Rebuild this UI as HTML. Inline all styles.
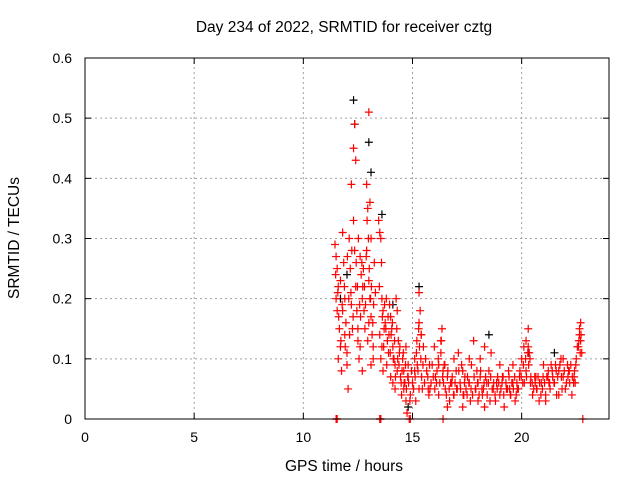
<!DOCTYPE html>
<html><head><meta charset="utf-8"><style>
body{margin:0;background:#fff}
svg text{font-family:"Liberation Sans",sans-serif;font-size:14px;fill:#000}
svg text.ttl{font-size:15.5px}
</style></head><body>
<svg id="chart" width="640" height="480" viewBox="0 0 640 480" xmlns="http://www.w3.org/2000/svg">
<rect width="640" height="480" fill="#fff"/>
<text class="ttl" x="344" y="32" text-anchor="middle">Day 234 of 2022, SRMTID for receiver cztg</text>
<text class="ttl" x="344" y="471" text-anchor="middle">GPS time / hours</text>
<text class="ttl" transform="translate(19,238) rotate(-90)" text-anchor="middle">SRMTID / TECUs</text>
<g id="grid"></g><g id="marks"></g><g id="axes"></g>
</svg>
<script>
const xTicks=[0,5,10,15,20];
const yTicks=[0,0.1,0.2,0.3,0.4,0.5,0.6];
const yTickLabels=["0","0.1","0.2","0.3","0.4","0.5","0.6"];
const redHours=[11.45,11.5,11.55,11.6,11.5,11.55,11.65,11.7,11.6,11.75,
11.8,11.85,11.9,11.95,12.0,11.7,11.8,11.9,12.0,12.05,
12.1,12.15,12.2,12.25,12.3,12.35,12.4,12.2,12.3,12.35,
12.4,12.45,12.5,12.55,12.6,12.65,12.7,12.5,12.6,12.7,
12.75,12.8,12.85,12.9,12.95,13.0,13.05,13.1,12.9,13.0,
13.05,13.1,13.15,13.2,13.25,13.3,13.2,13.1,13.0,12.95,
13.45,13.5,13.55,13.6,13.65,13.7,13.5,13.6,13.55,13.65,
13.75,13.8,13.85,13.9,13.95,14.0,14.05,14.1,14.15,14.2,
14.25,14.3,14.0,14.1,14.2,14.3,14.35,14.4,14.45,14.5,
14.55,14.6,14.65,14.7,14.75,14.8,14.6,14.7,14.8,14.9,
15.0,15.1,15.2,15.3,15.35,15.4,15.5,15.25,15.3,15.15,
15.6,15.7,15.8,15.9,16.0,16.1,16.2,16.3,16.35,16.4,
16.5,16.6,16.7,16.8,16.9,17.0,17.1,17.2,17.3,17.4,
17.5,17.6,17.7,17.8,17.9,18.0,18.1,18.2,18.3,18.4,
18.5,18.6,18.7,18.8,18.9,19.0,19.1,19.2,19.3,19.4,
19.5,19.6,19.7,19.8,19.9,20.0,20.1,20.2,20.3,20.4,
20.5,20.6,20.7,20.8,20.9,21.0,21.1,21.2,21.3,21.4,
21.5,21.6,21.7,21.8,21.9,22.0,22.1,22.2,22.3,22.4,
22.5,22.6,22.65,22.7,22.75,22.7,22.65,16.2,17.6,18.3,
15.1,15.45,15.75,16.05,16.45,16.75,17.05,17.35,17.65,17.95,
18.25,18.55,18.85,19.15,19.45,19.75,20.05,20.35,20.65,20.95,
21.25,21.55,21.85,22.15,22.45,16.6,18.0,19.6,21.1,21.7,
15.3,15.4,16.3,16.9,17.3,18.1,19.0,20.2,20.3,21.9,
11.5,11.52,11.55,13.5,13.52,13.55,14.85,14.9,16.4,22.8,
11.48,11.58,11.62,11.72,11.78,11.88,11.92,12.02,12.08,12.12,
12.18,12.22,12.28,12.42,12.48,12.52,12.58,12.62,12.68,12.72,
12.78,12.82,12.88,12.92,12.98,13.02,13.08,13.12,13.18,13.22,
13.48,13.58,13.62,13.68,13.72,13.78,13.82,13.88,13.92,13.98,
14.02,14.08,14.12,14.18,14.22,14.28,14.32,14.38,14.42,14.48,
14.52,14.58,14.62,14.68,14.72,14.78,14.82,14.88,14.95,15.05,
15.12,15.18,15.22,15.28,15.32,15.38,15.42,15.48,15.55,15.65,
15.72,15.78,15.85,15.95,16.02,16.12,16.18,16.25,16.32,16.38,
16.42,16.48,16.55,16.62,16.68,16.75,16.82,16.88,16.95,17.02,
17.12,17.18,17.25,17.32,17.38,17.45,17.52,17.58,17.68,17.75,
17.82,17.88,17.98,18.05,18.12,18.18,18.28,18.35,18.42,18.48,
18.58,18.65,18.72,18.78,18.88,18.95,19.05,19.12,19.18,19.28,
19.35,19.42,19.48,19.55,19.62,19.68,19.78,19.85,19.92,19.98,
20.08,20.12,20.18,20.22,20.28,20.32,20.38,20.42,20.48,20.55,
20.62,20.68,20.75,20.82,20.88,20.98,21.05,21.15,21.22,21.28,
21.35,21.42,21.48,21.58,21.65,21.75,21.82,21.95,22.05,22.12,
22.18,22.25,22.32,22.38,22.42,22.48,22.55,22.62,22.68,22.72];
const redValues=[0.29,0.27,0.25,0.22,0.2,0.18,0.15,0.12,0.1,0.08,
0.31,0.26,0.2,0.16,0.11,0.23,0.18,0.14,0.09,0.05,
0.3,0.25,0.19,0.15,0.45,0.49,0.43,0.39,0.33,0.28,
0.22,0.18,0.13,0.1,0.27,0.24,0.2,0.15,0.12,0.08,
0.25,0.22,0.19,0.39,0.35,0.51,0.36,0.3,0.28,0.23,
0.2,0.17,0.14,0.12,0.26,0.21,0.1,0.09,0.16,0.13,
0.33,0.31,0.3,0.2,0.18,0.15,0.14,0.12,0.1,0.08,
0.16,0.2,0.13,0.11,0.19,0.17,0.15,0.12,0.1,0.09,
0.2,0.18,0.07,0.06,0.05,0.08,0.13,0.11,0.07,0.04,
0.1,0.08,0.06,0.03,0.01,0.09,0.05,0.12,0.07,0.04,
0.06,0.1,0.13,0.21,0.18,0.14,0.12,0.08,0.05,0.03,
0.1,0.07,0.05,0.09,0.12,0.06,0.04,0.11,0.15,0.08,
0.05,0.07,0.03,0.06,0.04,0.08,0.11,0.05,0.02,0.07,
0.04,0.06,0.09,0.13,0.05,0.03,0.07,0.04,0.02,0.06,
0.08,0.11,0.05,0.03,0.07,0.04,0.06,0.02,0.05,0.08,
0.04,0.06,0.03,0.05,0.07,0.1,0.12,0.08,0.15,0.06,
0.04,0.07,0.05,0.03,0.06,0.09,0.04,0.07,0.05,0.08,
0.06,0.04,0.08,0.1,0.07,0.05,0.09,0.06,0.04,0.07,
0.1,0.12,0.14,0.16,0.11,0.13,0.15,0.09,0.1,0.12,
0.08,0.05,0.04,0.07,0.09,0.06,0.05,0.04,0.03,0.08,
0.05,0.03,0.06,0.07,0.05,0.04,0.06,0.11,0.07,0.05,
0.06,0.09,0.05,0.08,0.06,0.02,0.06,0.09,0.03,0.04,
0.16,0.14,0.13,0.1,0.08,0.1,0.09,0.13,0.12,0.1,
0,0,0,0,0,0,0,0,0,0,
0.24,0.21,0.17,0.13,0.19,0.22,0.12,0.27,0.2,0.14,
0.21,0.28,0.17,0.26,0.22,0.3,0.19,0.17,0.26,0.22,
0.18,0.15,0.27,0.33,0.3,0.25,0.2,0.22,0.16,0.19,
0.22,0.26,0.17,0.12,0.19,0.15,0.09,0.17,0.14,0.11,
0.14,0.16,0.1,0.13,0.07,0.15,0.1,0.09,0.12,0.06,
0.08,0.11,0.06,0.09,0.05,0.07,0.06,0.03,0.08,0.05,
0.07,0.11,0.09,0.15,0.12,0.1,0.07,0.09,0.06,0.08,
0.05,0.09,0.06,0.07,0.05,0.08,0.1,0.06,0.13,0.07,
0.06,0.09,0.04,0.08,0.05,0.06,0.07,0.04,0.06,0.05,
0.08,0.06,0.09,0.04,0.06,0.05,0.07,0.06,0.05,0.04,
0.07,0.05,0.06,0.04,0.08,0.05,0.06,0.07,0.04,0.06,
0.07,0.05,0.06,0.04,0.05,0.06,0.05,0.07,0.04,0.06,
0.05,0.07,0.04,0.06,0.05,0.07,0.06,0.05,0.08,0.07,
0.09,0.06,0.1,0.07,0.11,0.09,0.1,0.07,0.06,0.05,
0.06,0.05,0.07,0.06,0.04,0.07,0.06,0.07,0.08,0.06,
0.09,0.07,0.06,0.08,0.07,0.09,0.07,0.08,0.06,0.07,
0.08,0.09,0.07,0.06,0.08,0.09,0.12,0.13,0.11,0.14];
const blackHours=[12.3,12.35,13.0,13.1,13.6,11.7,12.0,14.1,15.3,20.3,21.5,18.5,14.8];
const blackValues=[0.53,0.49,0.46,0.41,0.34,0.2,0.24,0.19,0.22,0.11,0.11,0.14,0.02];
const X0=85,X1=609,Y0=419,Y1=58,XMAX=24,YMAX=0.6;
const xs=v=>X0+(X1-X0)*v/XMAX, ys=v=>Y0-(Y0-Y1)*v/YMAX;
const NS="http://www.w3.org/2000/svg";
function mk(tag,attrs,parent){const e=document.createElementNS(NS,tag);for(const k in attrs)e.setAttribute(k,attrs[k]);parent.appendChild(e);return e;}
const grid=document.getElementById('grid'),axes=document.getElementById('axes'),marks=document.getElementById('marks');
xTicks.forEach(t=>{const x=xs(t);
 if(t>0){const g=mk('line',{x1:x,x2:x,y1:Y0,y2:Y1,stroke:'#a0a0a0','stroke-dasharray':'2,3'},grid);
 
 }
 mk('line',{x1:x,x2:x,y1:Y0,y2:Y0-6,stroke:'#000'},axes);mk('line',{x1:x,x2:x,y1:Y1,y2:Y1+6,stroke:'#000'},axes);
 const l=mk('text',{x:x,y:Y0+23,'text-anchor':'middle'},axes);l.textContent=t;
 
 });
yTicks.forEach((t,i)=>{const y=ys(t);
 if(t>0&&t<YMAX){const g=mk('line',{x1:X0,x2:X1,y1:y,y2:y,stroke:'#a0a0a0','stroke-dasharray':'2,3'},grid);
 
 }
 mk('line',{x1:X0,x2:X0+6,y1:y,y2:y,stroke:'#000'},axes);mk('line',{x1:X1,x2:X1-6,y1:y,y2:y,stroke:'#000'},axes);
 const l=mk('text',{x:X0-13,y:y+5,'text-anchor':'end'},axes);l.textContent=yTickLabels[i];
 
 });
const frame=mk('rect',{x:X0,y:Y1,width:X1-X0,height:Y0-Y1,fill:'none',stroke:'#000'},axes);


function cross(h,v,color,name){const x=xs(h),y=ys(v);
 const p=mk('path',{d:`M${x-4},${y}H${x+4}M${x},${y-4}V${y+4}`,stroke:color,'stroke-width':1.2,fill:'none'},marks);
 
 }
blackHours.forEach((h,i)=>cross(h,blackValues[i],'#000','black-point'));
redHours.forEach((h,i)=>cross(h,redValues[i],'#ff0000','red-point'));
</script>
</body></html>
